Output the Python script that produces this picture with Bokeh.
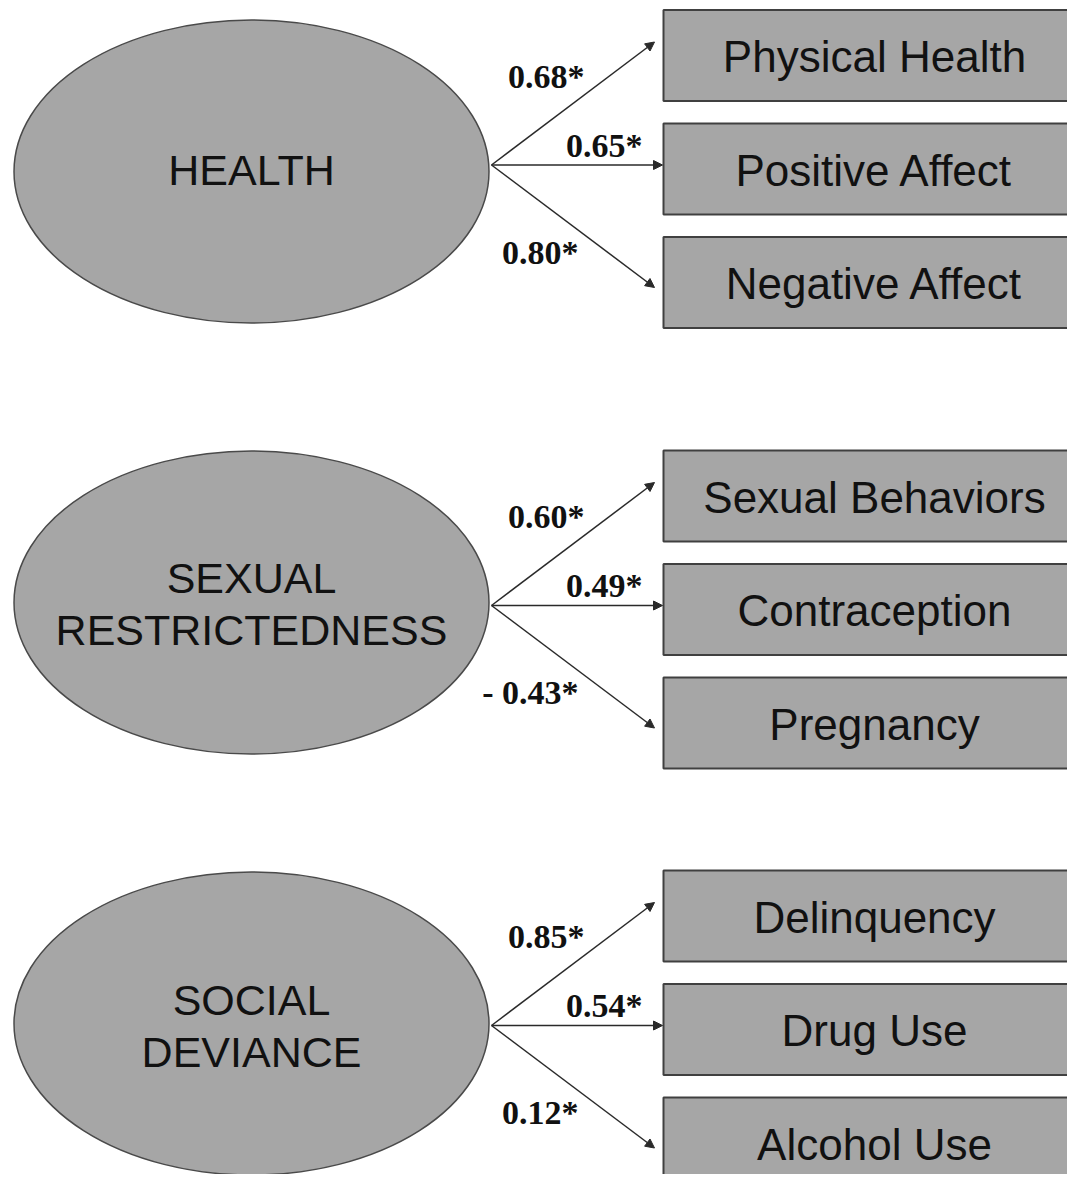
from bokeh.plotting import figure
from bokeh.models import ColumnDataSource, Range1d, Arrow, NormalHead
from bokeh.core.properties import value
from bokeh.embed import file_html
from bokeh.resources import INLINE

# ---- data ----
factor_lines = [["HEALTH"], ["SEXUAL", "RESTRICTEDNESS"], ["SOCIAL", "DEVIANCE"]]
health_indicators = ["Physical Health", "Positive Affect", "Negative Affect"]
sexual_indicators = ["Sexual Behaviors", "Contraception", "Pregnancy"]
deviance_indicators = ["Delinquency", "Drug Use", "Alcohol Use"]
health_loadings = [0.68, 0.65, 0.80]
sexual_loadings = [0.60, 0.49, -0.43]
deviance_loadings = [0.85, 0.54, 0.12]

indicators = [health_indicators, sexual_indicators, deviance_indicators]
loadings = [health_loadings, sexual_loadings, deviance_loadings]

# ---- layout (reference pixel space) ----
W, H = 1067, 1174
group_top = [9.5, 450, 870]
ellipse_cy = [171, 602, 1023]
text_cy = [169.5, 603, 1025]
box_step, box_h = 113.5, 91
box_left, box_right = 663, 1080
ell_cx, ell_w, ell_h = 251, 475, 303
origin_x = 491
arrow_dy = [32, 155, 277.5]
arrow_tx = [654, 662, 654]
lab_x = [584, 642, 578]
lab_dy = [66, 135, 242]

FILL = "#a6a6a6"

p = figure(width=W, height=H, output_backend="svg", toolbar_location=None,
           x_range=Range1d(0, W), y_range=Range1d(H, 0),
           min_border=0, x_axis_type=None, y_axis_type=None,
           background_fill_color="white", border_fill_color="white")
p.grid.visible = False
p.outline_line_color = None

# ellipses
p.ellipse(x=[ell_cx] * 3, y=ellipse_cy, width=ell_w, height=ell_h,
          fill_color=FILL, line_color="#4a4a4a", line_width=1.5)

# factor labels
ftx, fty, ftt = [], [], []
line_gap = 52
for g, lines in enumerate(factor_lines):
    n = len(lines)
    for k, t in enumerate(lines):
        ftx.append(ell_cx)
        fty.append(text_cy[g] + (k - (n - 1) / 2) * line_gap)
        ftt.append(t)
p.text(x=ftx, y=fty, text=ftt, text_align="center", text_baseline="middle",
       text_font=value("Liberation Sans"), text_font_size=value("43px"),
       text_color="#111111")

# boxes
bl, br, bt, bb, tx, ty, tt = [], [], [], [], [], [], []
for g in range(3):
    for i, name in enumerate(indicators[g]):
        top = group_top[g] + i * box_step
        bl.append(box_left); br.append(box_right)
        bt.append(top); bb.append(top + box_h)
        tx.append(874); ty.append(top + box_h / 2 + 1); tt.append(name)
p.quad(left=bl, right=br, top=bt, bottom=bb, fill_color=FILL,
       line_color="#404040", line_width=2)
p.text(x=tx, y=ty, text=tt, text_align="center", text_baseline="middle",
       text_font=value("Liberation Sans"), text_font_size=value("44px"),
       text_color="#111111")

# arrows + loading labels
xs, ys, xe, ye, lx, ly, lt = [], [], [], [], [], [], []
for g in range(3):
    oy = group_top[g] + 155
    for i, v in enumerate(loadings[g]):
        xs.append(origin_x); ys.append(oy)
        xe.append(arrow_tx[i]); ye.append(group_top[g] + arrow_dy[i])
        lx.append(lab_x[i]); ly.append(group_top[g] + lab_dy[i])
        lt.append(("- %.2f*" % abs(v)) if v < 0 else ("%.2f*" % v))

src = ColumnDataSource(dict(x_start=xs, y_start=ys, x_end=xe, y_end=ye))
p.add_layout(Arrow(source=src, x_start="x_start", y_start="y_start",
                   x_end="x_end", y_end="y_end", line_color="#2a2a2a",
                   line_width=1.5,
                   end=NormalHead(size=9, fill_color="#2a2a2a",
                                  line_color="#2a2a2a", line_width=1)))
p.text(x=lx, y=ly, text=lt, text_align="right", text_baseline="middle",
       text_font=value("Liberation Serif"), text_font_style="bold",
       text_font_size=value("34px"), text_color="#111111")

open("out.html", "w").write(file_html(p, INLINE))
